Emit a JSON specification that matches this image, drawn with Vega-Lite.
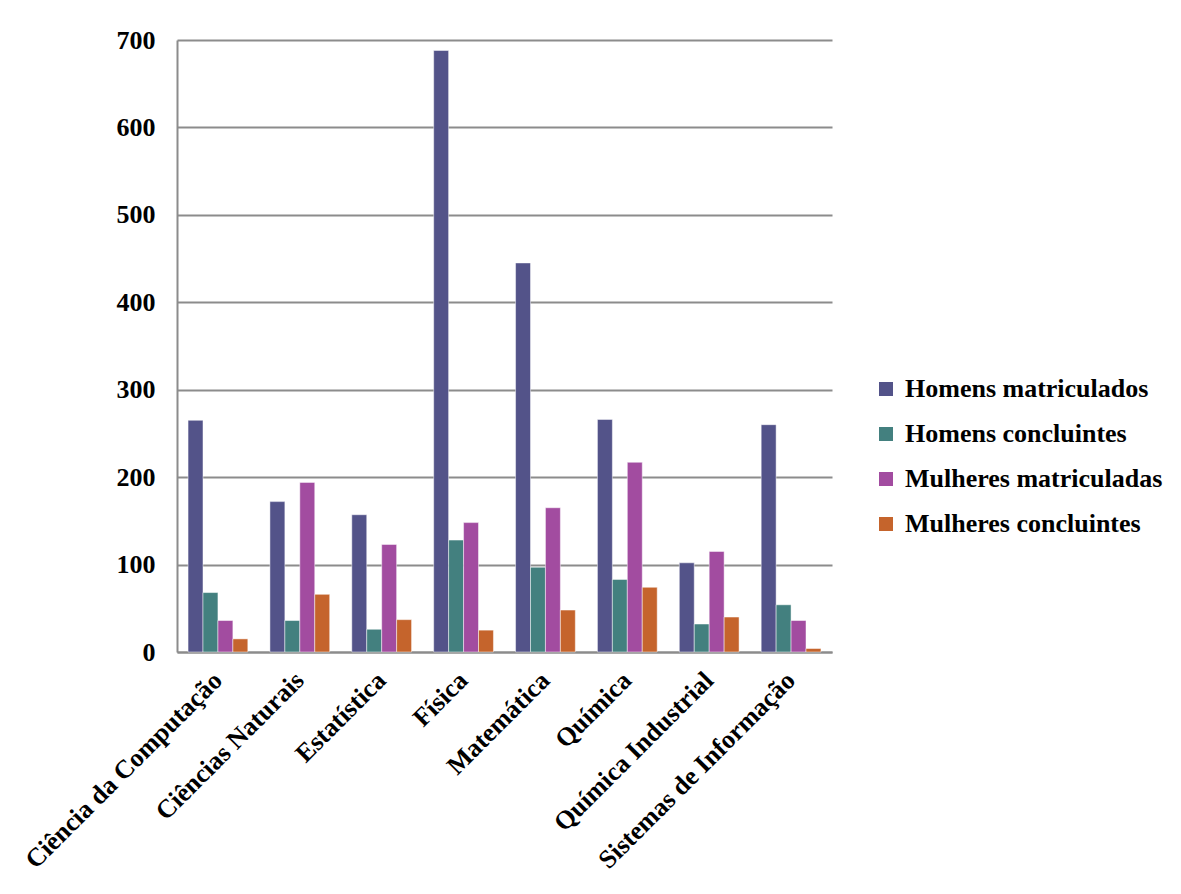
{
  "$schema": "https://vega.github.io/schema/vega-lite/v6.json",
  "autosize": {"type": "none"},
  "width": 655,
  "height": 612,
  "padding": {"left": 177, "top": 40, "right": 349, "bottom": 242},
  "background": "white",
  "config": {
    "view": {"stroke": null},
    "font": "Liberation Serif"
  },
  "data": {
    "values": [
      {"curso": "Ciência da Computação", "serie": "Homens matriculados", "valor": 265},
      {"curso": "Ciência da Computação", "serie": "Homens concluintes", "valor": 68},
      {"curso": "Ciência da Computação", "serie": "Mulheres matriculadas", "valor": 36},
      {"curso": "Ciência da Computação", "serie": "Mulheres concluintes", "valor": 15},
      {"curso": "Ciências Naturais", "serie": "Homens matriculados", "valor": 172},
      {"curso": "Ciências Naturais", "serie": "Homens concluintes", "valor": 36},
      {"curso": "Ciências Naturais", "serie": "Mulheres matriculadas", "valor": 194},
      {"curso": "Ciências Naturais", "serie": "Mulheres concluintes", "valor": 66},
      {"curso": "Estatística", "serie": "Homens matriculados", "valor": 157},
      {"curso": "Estatística", "serie": "Homens concluintes", "valor": 26},
      {"curso": "Estatística", "serie": "Mulheres matriculadas", "valor": 123},
      {"curso": "Estatística", "serie": "Mulheres concluintes", "valor": 37},
      {"curso": "Física", "serie": "Homens matriculados", "valor": 688},
      {"curso": "Física", "serie": "Homens concluintes", "valor": 128},
      {"curso": "Física", "serie": "Mulheres matriculadas", "valor": 148},
      {"curso": "Física", "serie": "Mulheres concluintes", "valor": 25},
      {"curso": "Matemática", "serie": "Homens matriculados", "valor": 445},
      {"curso": "Matemática", "serie": "Homens concluintes", "valor": 97},
      {"curso": "Matemática", "serie": "Mulheres matriculadas", "valor": 165},
      {"curso": "Matemática", "serie": "Mulheres concluintes", "valor": 48},
      {"curso": "Química", "serie": "Homens matriculados", "valor": 266},
      {"curso": "Química", "serie": "Homens concluintes", "valor": 83},
      {"curso": "Química", "serie": "Mulheres matriculadas", "valor": 217},
      {"curso": "Química", "serie": "Mulheres concluintes", "valor": 74},
      {"curso": "Química Industrial", "serie": "Homens matriculados", "valor": 102},
      {"curso": "Química Industrial", "serie": "Homens concluintes", "valor": 32},
      {"curso": "Química Industrial", "serie": "Mulheres matriculadas", "valor": 115},
      {"curso": "Química Industrial", "serie": "Mulheres concluintes", "valor": 40},
      {"curso": "Sistemas de Informação", "serie": "Homens matriculados", "valor": 260},
      {"curso": "Sistemas de Informação", "serie": "Homens concluintes", "valor": 54},
      {"curso": "Sistemas de Informação", "serie": "Mulheres matriculadas", "valor": 36},
      {"curso": "Sistemas de Informação", "serie": "Mulheres concluintes", "valor": 4}
    ]
  },
  "mark": {"type": "bar", "stroke": "white", "strokeWidth": 0.8, "strokeOpacity": 0.6},
  "encoding": {
    "x": {
      "field": "curso",
      "type": "nominal",
      "sort": null,
      "scale": {"paddingInner": 0.27, "paddingOuter": 0.135},
      "axis": {
        "title": null,
        "labelAngle": -45,
        "labelAlign": "right",
        "labelBaseline": "middle",
        "labelFont": "Liberation Serif",
        "labelFontWeight": "bold",
        "labelFontSize": 26,
        "labelColor": "black",
        "labelPadding": 24,
        "labelLimit": 0,
        "ticks": false,
        "domainColor": "#8c8c8c",
        "domainWidth": 2,
        "grid": false
      }
    },
    "xOffset": {
      "field": "serie",
      "type": "nominal",
      "sort": ["Homens matriculados", "Homens concluintes", "Mulheres matriculadas", "Mulheres concluintes"],
      "scale": {"paddingInner": 0, "paddingOuter": 0}
    },
    "y": {
      "field": "valor",
      "type": "quantitative",
      "scale": {"domain": [0, 700], "nice": false},
      "axis": {
        "title": null,
        "values": [0, 100, 200, 300, 400, 500, 600, 700],
        "labelFont": "Liberation Serif",
        "labelFontWeight": "bold",
        "labelFontSize": 26,
        "labelColor": "black",
        "labelPadding": 22,
        "ticks": false,
        "domainColor": "#8c8c8c",
        "domainWidth": 2,
        "gridColor": "#8c8c8c",
        "gridWidth": 2
      }
    },
    "color": {
      "field": "serie",
      "type": "nominal",
      "sort": ["Homens matriculados", "Homens concluintes", "Mulheres matriculadas", "Mulheres concluintes"],
      "scale": {
        "domain": ["Homens matriculados", "Homens concluintes", "Mulheres matriculadas", "Mulheres concluintes"],
        "range": ["#535389", "#43807F", "#A24CA0", "#C5642C"]
      },
      "legend": {
        "title": null,
        "orient": "none",
        "legendX": 696,
        "legendY": 336,
        "symbolType": "square",
        "symbolSize": 196,
        "symbolStrokeWidth": 0,
        "labelFont": "Liberation Serif",
        "labelFontWeight": "bold",
        "labelFontSize": 26,
        "labelColor": "black",
        "labelOffset": 6,
        "labelLimit": 0,
        "rowPadding": 19
      }
    }
  }
}
